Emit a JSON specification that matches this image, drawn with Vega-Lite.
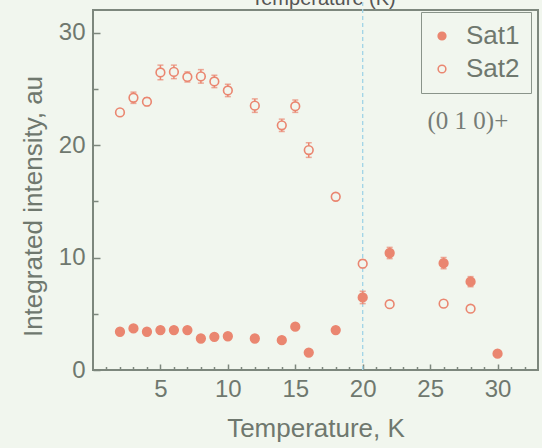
{
  "$schema": "https://vega.github.io/schema/vega-lite/v6.json",
  "autosize": "none",
  "width": 445,
  "height": 360,
  "padding": {"left": 93, "top": 10, "right": 4, "bottom": 78},
  "background": "#f1f6ee",
  "config": {
    "view": {"stroke": "#7d877d", "strokeWidth": 2},
    "axis": {"grid": false, "domain": false, "labelFont": "Liberation Sans", "titleFont": "Liberation Sans", "labelColor": "#6f786e", "titleColor": "#6f786e", "tickColor": "#7d877d", "tickWidth": 1.5, "titleFontWeight": "normal"},
    "legend": {"labelFont": "Liberation Sans"},
    "text": {"font": "Liberation Serif"}
  },
  "datasets": {
    "pts": [
      {"T": 2, "series": "Sat1", "v": 3.4, "lo": 3.2, "hi": 3.6},
      {"T": 3, "series": "Sat1", "v": 3.7, "lo": 3.5, "hi": 3.9},
      {"T": 4, "series": "Sat1", "v": 3.4, "lo": 3.2, "hi": 3.6},
      {"T": 5, "series": "Sat1", "v": 3.55, "lo": 3.3, "hi": 3.8},
      {"T": 6, "series": "Sat1", "v": 3.55, "lo": 3.35, "hi": 3.75},
      {"T": 7, "series": "Sat1", "v": 3.55, "lo": 3.35, "hi": 3.75},
      {"T": 8, "series": "Sat1", "v": 2.8, "lo": 2.6, "hi": 3.0},
      {"T": 9, "series": "Sat1", "v": 2.95, "lo": 2.75, "hi": 3.15},
      {"T": 10, "series": "Sat1", "v": 3.0, "lo": 2.8, "hi": 3.2},
      {"T": 12, "series": "Sat1", "v": 2.8, "lo": 2.6, "hi": 3.0},
      {"T": 14, "series": "Sat1", "v": 2.65, "lo": 2.45, "hi": 2.85},
      {"T": 15, "series": "Sat1", "v": 3.85, "lo": 3.6, "hi": 4.1},
      {"T": 16, "series": "Sat1", "v": 1.55, "lo": 1.4, "hi": 1.7},
      {"T": 18, "series": "Sat1", "v": 3.55, "lo": 3.35, "hi": 3.75},
      {"T": 20, "series": "Sat1", "v": 6.45, "lo": 5.9, "hi": 7.0},
      {"T": 22, "series": "Sat1", "v": 10.4, "lo": 9.9, "hi": 10.9},
      {"T": 26, "series": "Sat1", "v": 9.5, "lo": 9.0, "hi": 10.0},
      {"T": 28, "series": "Sat1", "v": 7.85, "lo": 7.4, "hi": 8.3},
      {"T": 30, "series": "Sat1", "v": 1.45, "lo": 1.3, "hi": 1.6},
      {"T": 2, "series": "Sat2", "v": 22.9, "lo": 22.7, "hi": 23.1},
      {"T": 3, "series": "Sat2", "v": 24.2, "lo": 23.7, "hi": 24.7},
      {"T": 4, "series": "Sat2", "v": 23.85, "lo": 23.5, "hi": 24.2},
      {"T": 5, "series": "Sat2", "v": 26.45, "lo": 25.8, "hi": 27.1},
      {"T": 6, "series": "Sat2", "v": 26.5, "lo": 25.9, "hi": 27.1},
      {"T": 7, "series": "Sat2", "v": 26.05, "lo": 25.6, "hi": 26.5},
      {"T": 8, "series": "Sat2", "v": 26.1, "lo": 25.5, "hi": 26.7},
      {"T": 9, "series": "Sat2", "v": 25.65, "lo": 25.1, "hi": 26.2},
      {"T": 10, "series": "Sat2", "v": 24.85, "lo": 24.3, "hi": 25.4},
      {"T": 12, "series": "Sat2", "v": 23.5, "lo": 22.9, "hi": 24.1},
      {"T": 14, "series": "Sat2", "v": 21.75, "lo": 21.2, "hi": 22.3},
      {"T": 15, "series": "Sat2", "v": 23.45, "lo": 22.9, "hi": 24.0},
      {"T": 16, "series": "Sat2", "v": 19.55, "lo": 18.9, "hi": 20.2},
      {"T": 18, "series": "Sat2", "v": 15.4, "lo": 15.2, "hi": 15.6},
      {"T": 20, "series": "Sat2", "v": 9.45, "lo": 9.1, "hi": 9.8},
      {"T": 22, "series": "Sat2", "v": 5.85, "lo": 5.7, "hi": 6.0},
      {"T": 26, "series": "Sat2", "v": 5.9, "lo": 5.6, "hi": 6.2},
      {"T": 28, "series": "Sat2", "v": 5.45, "lo": 5.2, "hi": 5.7}
    ]
  },
  "resolve": {"axis": {"x": "independent", "y": "independent"}},
  "layer": [
    {
      "data": {"values": [{"T": 20, "y0": 0, "y1": 32.9}]},
      "mark": {"type": "rule", "color": "#9fd4e6", "strokeWidth": 1.3, "strokeDash": [4, 3], "clip": false},
      "encoding": {
        "x": {"field": "T", "type": "quantitative", "scale": {"domain": [0, 33], "nice": false, "zero": false},
              "axis": {"orient": "top", "labels": false, "ticks": false, "title": "Temperature (K)", "titleFontSize": 20, "titleColor": "#555555", "titleX": 230, "titleY": -6, "titleBaseline": "alphabetic", "titleAlign": "center"}},
        "y": {"field": "y0", "type": "quantitative", "scale": {"domain": [0, 32], "nice": false}, "axis": null},
        "y2": {"field": "y1"}
      }
    },
    {
      "data": {"name": "pts"},
      "mark": {"type": "errorbar", "ticks": {"size": 6, "color": "#ea8670"}, "color": "#ea8670", "thickness": 1.5},
      "encoding": {
        "x": {"field": "T", "type": "quantitative",
              "axis": {"orient": "bottom", "values": [1,2,3,4,6,7,8,9,11,12,13,14,16,17,18,19,21,22,23,24,26,27,28,29,31,32], "labels": false, "tickSize": -3.5, "title": null}},
        "y": {"field": "lo", "type": "quantitative",
              "axis": {"orient": "left", "values": [5, 15, 25], "labels": false, "tickSize": -5, "title": null}},
        "y2": {"field": "hi"}
      }
    },
    {
      "data": {"name": "pts"},
      "mark": {"type": "point", "filled": false, "stroke": "#ea8670", "strokeWidth": 1.6, "size": 75, "opacity": 1, "fillOpacity": 1},
      "encoding": {
        "x": {"field": "T", "type": "quantitative",
              "axis": {"orient": "bottom", "values": [5, 10, 15, 20, 25, 30], "tickSize": -6, "labelPadding": 13, "labelFontSize": 24, "title": "Temperature, K", "titleFontSize": 26, "titlePadding": 14}},
        "y": {"field": "v", "type": "quantitative",
              "axis": {"orient": "left", "values": [0, 10, 20, 30], "tickSize": -7, "labelPadding": 15, "labelFontSize": 24, "title": "Integrated intensity, au", "titleFontSize": 26, "titlePadding": 12, "titleY": 196}},
        "fill": {"field": "series", "type": "nominal",
                 "scale": {"domain": ["Sat1", "Sat2"], "range": ["#ea8670", "#f1f6ee"]},
                 "legend": {"title": null, "orient": "none", "legendX": 328, "legendY": 2, "labelFontSize": 26, "labelColor": "#6f786e", "symbolType": "circle", "symbolSize": 60, "symbolStrokeColor": "#ea8670", "symbolStrokeWidth": 1.5, "strokeColor": "#8a948a", "fillColor": "#f1f6ee", "padding": 11, "rowPadding": 7, "symbolOffset": -3, "labelOffset": 11}}
      }
    },
    {
      "data": {"values": [{"T": 27.8, "v": 22.1, "label": "(0 1 0)+"}]},
      "mark": {"type": "text", "fontSize": 25, "color": "#767c76", "align": "center", "baseline": "middle"},
      "encoding": {
        "x": {"field": "T", "type": "quantitative", "axis": null},
        "y": {"field": "v", "type": "quantitative", "axis": null},
        "text": {"field": "label"}
      }
    }
  ]
}
